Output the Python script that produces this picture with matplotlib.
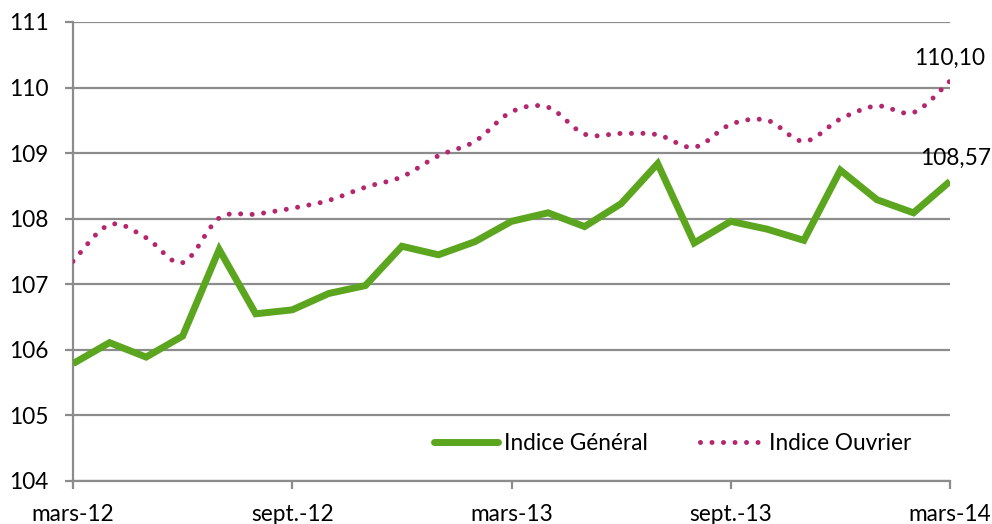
import matplotlib
matplotlib.use("Agg")
import matplotlib.pyplot as plt
import numpy as np
from matplotlib.path import Path
from matplotlib.patches import PathPatch
from matplotlib.lines import Line2D

months = ['mars-12', 'avr.-12', 'mai-12', 'juin-12', 'juil.-12', 'août-12',
          'sept.-12', 'oct.-12', 'nov.-12', 'déc.-12', 'janv.-13', 'févr.-13',
          'mars-13', 'avr.-13', 'mai-13', 'juin-13', 'juil.-13', 'août-13',
          'sept.-13', 'oct.-13', 'nov.-13', 'déc.-13', 'janv.-14', 'févr.-14',
          'mars-14']
indice_general = [105.79, 106.11, 105.89, 106.21, 107.53, 106.55, 106.61, 106.86,
                  106.98, 107.58, 107.45, 107.65, 107.96, 108.09, 107.88, 108.23,
                  108.84, 107.63, 107.96, 107.84, 107.67, 108.74, 108.29, 108.09,
                  108.57]
indice_ouvrier = [107.35, 107.91, 107.71, 107.33, 108.01, 108.07, 108.16, 108.28,
                  108.48, 108.64, 108.96, 109.18, 109.63, 109.70, 109.29, 109.30,
                  109.28, 109.09, 109.44, 109.50, 109.18, 109.52, 109.72, 109.62,
                  110.10]
tick_idx = [0, 6, 12, 18, 24]
yticks = [104, 105, 106, 107, 108, 109, 110, 111]

GREEN = '#5BA61E'
PURPLE = '#B4276F'
GRID = '#8C8C8C'
FS = 16.3

plt.rcParams['font.family'] = ['Lato', 'DejaVu Sans']

fig = plt.figure(figsize=(9.92, 5.24), dpi=100)
ax = fig.add_axes([73/992, 1-481/524, (950-73)/992, (481-22)/524])

x = np.arange(len(months))

# green straight line
ax.plot(x, indice_general, color=GREEN, lw=5.0, solid_joinstyle='miter',
        solid_capstyle='butt', zorder=3)

# purple smoothed dotted line (Bezier path through data, Excel-style)
xs = x.astype(float)
ys = np.array(indice_ouvrier, dtype=float)
n = len(xs)
verts = [(xs[0], ys[0])]
codes = [Path.MOVETO]
for i in range(n - 1):
    p0 = np.array([xs[max(i-1, 0)], ys[max(i-1, 0)]])
    p1 = np.array([xs[i], ys[i]])
    p2 = np.array([xs[i+1], ys[i+1]])
    p3 = np.array([xs[min(i+2, n-1)], ys[min(i+2, n-1)]])
    c1 = p1 + (p2 - p0) / 6.0
    c2 = p2 - (p3 - p1) / 6.0
    verts += [tuple(c1), tuple(c2), tuple(p2)]
    codes += [Path.CURVE4] * 3
path = Path(verts, codes)
patch = PathPatch(path, fill=False, edgecolor=PURPLE, lw=3.6,
                  linestyle=(0, (0.001, 2.3)), capstyle='round', zorder=3)
ax.add_patch(patch)

ax.set_xlim(0, 24)
ax.set_ylim(104, 111)
ax.set_yticks(yticks)
ax.set_yticklabels([str(v) for v in yticks])
ax.set_xticks(tick_idx)
ax.set_xticklabels([months[i] for i in tick_idx])
ax.yaxis.grid(True, color=GRID, lw=1.6)
ax.set_axisbelow(True)
for s in ['top', 'right']:
    ax.spines[s].set_visible(False)
for s in ['left', 'bottom']:
    ax.spines[s].set_color(GRID)
    ax.spines[s].set_linewidth(1.6)
ax.tick_params(axis='both', colors=GRID, length=5.5, width=1.6, labelsize=FS,
               labelcolor='black')
ax.tick_params(axis='y', pad=12)
ax.tick_params(axis='x', pad=11)

# data labels
ax.annotate('110,10', (24, indice_ouvrier[-1]), xytext=(0, 9),
            textcoords='offset points', ha='center', va='bottom', fontsize=FS,
            annotation_clip=False)
ax.annotate('108,57', (24, indice_general[-1]), xytext=(4, 9),
            textcoords='offset points', ha='center', va='bottom', fontsize=FS,
            annotation_clip=False)

handles = [Line2D([], [], color=GREEN, lw=5.0, solid_capstyle='round'),
           Line2D([], [], color=PURPLE, lw=3.6, linestyle=(0, (0.001, 2.3)),
                  dash_capstyle='round')]
leg = ax.legend(handles, ['Indice Général', 'Indice Ouvrier'], ncol=2,
                frameon=False, fontsize=FS, loc='center',
                bbox_to_anchor=((673-73)/877, (481-443)/459),
                handlelength=2.8, handletextpad=0.27, columnspacing=2.3)

fig.savefig('out.png', dpi=100)
